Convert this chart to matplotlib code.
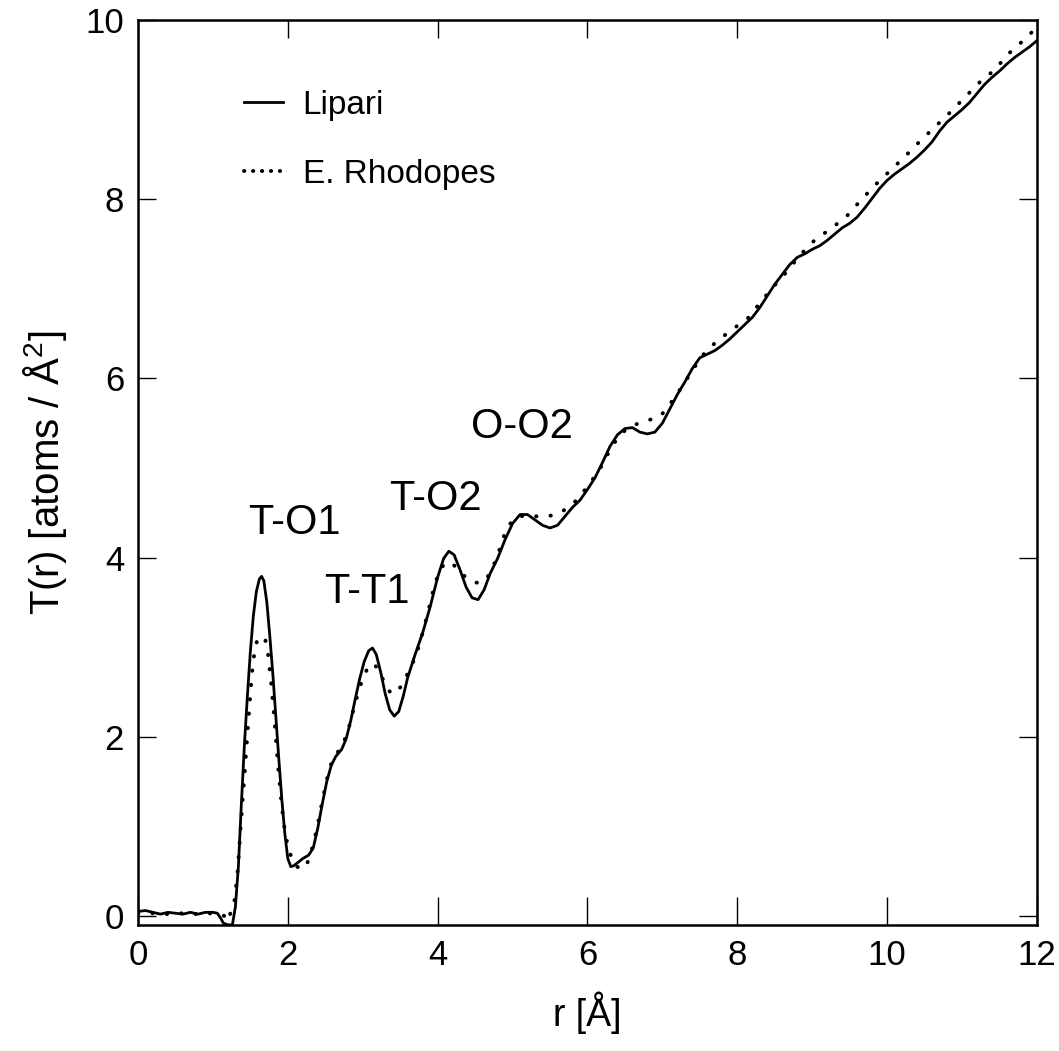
import matplotlib
matplotlib.use("Agg")
import matplotlib.pyplot as plt
from matplotlib import font_manager

# Total correlation function T(r) for two obsidian samples
r_lipari = [0.00, 0.10, 0.20, 0.30, 0.40, 0.50, 0.60, 0.70, 0.80, 0.90, 1.00, 1.06, 1.10, 1.14,
            1.20, 1.26, 1.30, 1.34, 1.38, 1.42, 1.46, 1.50, 1.54, 1.58, 1.62, 1.65, 1.68, 1.72,
            1.76, 1.80, 1.84, 1.88, 1.92, 1.96, 2.00, 2.04, 2.08, 2.14, 2.20, 2.28, 2.34, 2.40,
            2.46, 2.52, 2.58, 2.64, 2.72, 2.78, 2.84, 2.90, 2.96, 3.02, 3.08, 3.13, 3.18, 3.24,
            3.30, 3.36, 3.42, 3.48, 3.54, 3.60, 3.70, 3.80, 3.90, 4.00, 4.08, 4.15, 4.22, 4.30,
            4.38, 4.46, 4.54, 4.62, 4.70, 4.80, 4.90, 5.00, 5.10, 5.20, 5.30, 5.40, 5.50, 5.60,
            5.70, 5.80, 5.90, 6.00, 6.10, 6.20, 6.30, 6.40, 6.50, 6.60, 6.70, 6.80, 6.90, 7.00,
            7.10, 7.20, 7.30, 7.40, 7.50, 7.60, 7.70, 7.80, 7.90, 8.00, 8.10, 8.20, 8.30, 8.40,
            8.50, 8.60, 8.70, 8.80, 8.90, 9.00, 9.10, 9.20, 9.30, 9.40, 9.50, 9.60, 9.70, 9.80,
            9.90, 10.00, 10.10, 10.20, 10.30, 10.40, 10.50, 10.60, 10.70, 10.80, 10.90, 11.00,
            11.10, 11.20, 11.30, 11.40, 11.50, 11.60, 11.70, 11.80, 11.90, 12.00]
t_lipari = [0.05, 0.06, 0.04, 0.02, 0.04, 0.03, 0.02, 0.04, 0.02, 0.04, 0.04, 0.03, -0.02, -0.08,
            -0.10, -0.10, 0.10, 0.55, 1.25, 1.90, 2.45, 2.95, 3.35, 3.62, 3.76, 3.79, 3.74, 3.50,
            3.12, 2.70, 2.22, 1.75, 1.30, 0.92, 0.64, 0.55, 0.56, 0.60, 0.64, 0.68, 0.76, 0.98,
            1.25, 1.50, 1.68, 1.78, 1.86, 1.98, 2.18, 2.42, 2.65, 2.84, 2.96, 2.99, 2.92, 2.72,
            2.48, 2.30, 2.23, 2.28, 2.45, 2.66, 2.92, 3.16, 3.45, 3.78, 3.99, 4.07, 4.03, 3.86,
            3.67, 3.55, 3.53, 3.64, 3.82, 3.99, 4.20, 4.38, 4.48, 4.48, 4.42, 4.36, 4.33, 4.36,
            4.46, 4.56, 4.64, 4.76, 4.89, 5.06, 5.24, 5.37, 5.44, 5.45, 5.40, 5.38, 5.40, 5.50,
            5.66, 5.82, 5.96, 6.11, 6.23, 6.27, 6.31, 6.37, 6.44, 6.52, 6.60, 6.68, 6.79, 6.92,
            7.05, 7.16, 7.27, 7.35, 7.39, 7.44, 7.48, 7.54, 7.61, 7.68, 7.73, 7.80, 7.90, 8.01,
            8.12, 8.21, 8.28, 8.34, 8.40, 8.47, 8.55, 8.64, 8.76, 8.86, 8.93, 9.00,
            9.08, 9.18, 9.28, 9.36, 9.43, 9.51, 9.58, 9.64, 9.70, 9.77]

r_rhodopes = [0.00, 0.20, 0.40, 0.60, 0.80, 1.00, 1.10, 1.15, 1.18, 1.23, 1.29, 1.33, 1.38, 1.43,
              1.48, 1.52, 1.56, 1.60, 1.65, 1.70, 1.74, 1.78, 1.82, 1.87, 1.92, 1.96, 2.00, 2.06,
              2.12, 2.20, 2.28, 2.34, 2.40, 2.46, 2.52, 2.58, 2.66, 2.74, 2.82, 2.90, 2.98, 3.06,
              3.14, 3.22, 3.30, 3.38, 3.46, 3.54, 3.62, 3.71, 3.80, 3.88, 3.96, 4.04, 4.12, 4.20,
              4.30, 4.40, 4.50, 4.60, 4.70, 4.80, 4.90, 5.00, 5.10, 5.20, 5.30, 5.43, 5.53, 5.63,
              5.73, 5.83, 6.00, 6.16, 6.30, 6.42, 6.56, 6.76, 6.96, 7.06, 7.14, 7.28, 7.40, 7.54,
              7.72, 7.94, 8.14, 8.32, 8.49, 8.67, 8.83, 9.03, 9.23, 9.45, 9.63, 9.83, 10.03, 10.23,
              10.43, 10.63, 10.83, 11.03, 11.23, 11.43, 11.63, 11.83, 12.00]
t_rhodopes = [0.03, 0.03, 0.02, 0.03, 0.02, 0.03, 0.02, 0.00, -0.06, 0.02, 0.18, 0.50, 1.10, 1.67,
              2.25, 2.70, 2.98, 3.10, 3.12, 3.08, 2.90, 2.58, 2.20, 1.67, 1.22, 0.95, 0.78, 0.62,
              0.55, 0.52, 0.62, 0.80, 1.02, 1.28, 1.52, 1.70, 1.82, 1.92, 2.12, 2.38, 2.60, 2.76,
              2.82, 2.74, 2.58, 2.48, 2.50, 2.60, 2.74, 2.90, 3.16, 3.42, 3.70, 3.88, 3.95, 3.93,
              3.84, 3.76, 3.72, 3.72, 3.82, 4.02, 4.28, 4.42, 4.46, 4.47, 4.46, 4.46, 4.47, 4.50,
              4.55, 4.62, 4.79, 4.98, 5.20, 5.36, 5.46, 5.52, 5.57, 5.66, 5.76, 5.93, 6.09, 6.26,
              6.41, 6.55, 6.67, 6.86, 7.03, 7.20, 7.37, 7.54, 7.66, 7.80, 7.97, 8.15, 8.31, 8.47,
              8.64, 8.80, 8.96, 9.13, 9.30, 9.44, 9.63, 9.78, 9.92]

peak_labels = ["T-O1", "T-T1", "T-O2", "O-O2"]
peak_label_pos = [(2.09, 4.39), (3.05, 3.62), (3.97, 4.65), (5.12, 5.46)]

x_ticks = [0, 2, 4, 6, 8, 10, 12]
y_ticks = [0, 2, 4, 6, 8, 10]

installed = {f.name for f in font_manager.fontManager.ttflist}
narrow = "Liberation Sans Narrow" if "Liberation Sans Narrow" in installed else "Liberation Sans"
regular = ["Liberation Sans", "DejaVu Sans"]
plt.rcParams["font.family"] = [narrow, "DejaVu Sans"]
plt.rcParams["mathtext.fontset"] = "custom"
plt.rcParams["mathtext.rm"] = narrow

fig = plt.figure(figsize=(10.59, 10.51), dpi=100)
ax = fig.add_axes([0.1303, 0.120, 0.8489, 0.861])

ax.plot(r_lipari, t_lipari, color="black", lw=2.0, solid_joinstyle="round", label="Lipari")
ax.plot(r_rhodopes, t_rhodopes, color="black", lw=2.8, linestyle=(0, (0.1, 3.6)),
        dash_capstyle="round", label="E. Rhodopes")

for text, (x, y) in zip(peak_labels, peak_label_pos):
    ax.text(x, y, text, fontsize=30, ha="center", va="center", family=regular)

ax.set_xlim(0, 12)
ax.set_ylim(-0.1, 10)
ax.set_xticks(x_ticks)
ax.set_yticks(y_ticks)
ax.tick_params(direction="in", length=13, width=1.0, top=True, right=True,
               labelsize=25, pad=10)
for tick in ax.xaxis.get_major_ticks():
    tick.tick1line.set_markersize(20)
for spine in ax.spines.values():
    spine.set_linewidth(1.8)

ax.set_xlabel("r [Å]", fontsize=27, labelpad=14)
ax.set_ylabel("T(r) [atoms / Å$^2$]", fontsize=29, labelpad=12)

leg = ax.legend(loc="upper left", bbox_to_anchor=(0.085, 0.956), frameon=False,
                handlelength=1.15, handletextpad=0.6, labelspacing=1.15,
                prop={"family": regular, "size": 24})
leg.legend_handles[1].set_linestyle((0, (0.1, 2.2)))

fig.savefig("out.png", dpi=100)
